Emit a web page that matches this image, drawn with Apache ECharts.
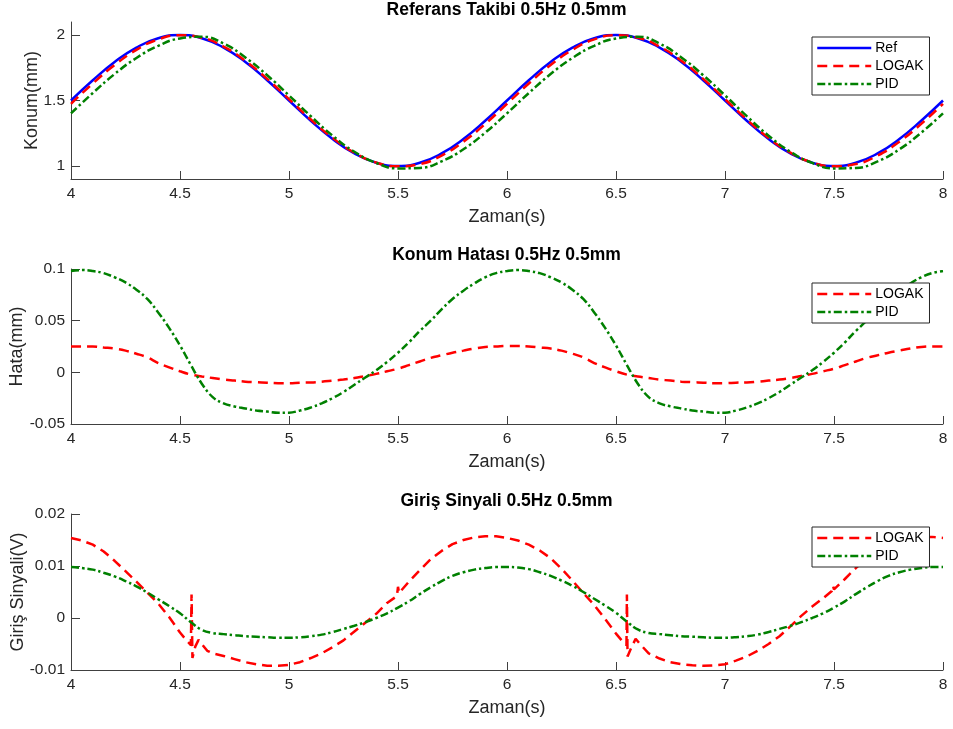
<!DOCTYPE html>
<html><head><meta charset="utf-8">
<script src="https://cdn.jsdelivr.net/npm/echarts@6/dist/echarts.min.js"></script>
<style>html,body{margin:0;padding:0;background:#fff}#c{width:953px;height:729px}</style>
</head><body><div id="c"></div>
<script>
// ---- data ----
const titles = ['Referans Takibi 0.5Hz 0.5mm', 'Konum Hatası 0.5Hz 0.5mm', 'Giriş Sinyali 0.5Hz 0.5mm'];
const yNames = ['Konum(mm)', 'Hata(mm)', 'Giriş Sinyali(V)'];
const xName = 'Zaman(s)';
const xTicks = [4, 4.5, 5, 5.5, 6, 6.5, 7, 7.5, 8];
const yTicksTop = [1, 1.5, 2];

// top panel, sampled every 0.1 s from 4 to 8
const posRef = [1.5,1.6545,1.794,1.9045,1.9755,2.0,1.9755,1.9045,1.794,1.6545,1.5,1.3455,1.206,1.0955,1.0245,1.0,1.0245,1.0955,1.206,1.3455,
  1.5,1.6545,1.794,1.9045,1.9755,2.0,1.9755,1.9045,1.794,1.6545,1.5,1.3455,1.206,1.0955,1.0245,1.0,1.0245,1.0955,1.206,1.3455,1.5];
const posLOGAK = [1.475,1.630,1.771,1.887,1.967,1.999,1.980,1.912,1.803,1.665,1.511,1.355,1.214,1.101,1.026,0.997,1.014,1.079,1.185,1.321,
  1.475,1.630,1.771,1.887,1.967,1.999,1.980,1.912,1.803,1.665,1.511,1.355,1.214,1.101,1.026,0.997,1.014,1.079,1.185,1.321,1.475];
const posPID = [1.402,1.557,1.702,1.825,1.918,1.974,1.987,1.935,1.829,1.693,1.539,1.380,1.231,1.108,1.023,0.981,0.985,1.035,1.127,1.254,
  1.402,1.557,1.702,1.825,1.918,1.974,1.987,1.935,1.829,1.693,1.539,1.380,1.231,1.108,1.023,0.981,0.985,1.035,1.127,1.254,1.402];

// middle panel, sampled every 0.05 s from 4 to 8
const errLOGAK = [0.025,0.025,0.025,0.024,0.023,0.021,0.018,0.0145,0.009,0.0048,0.001,-0.0022,-0.004,-0.0055,-0.007,-0.008,-0.009,-0.0095,-0.010,-0.0105,
  -0.0105,-0.010,-0.0098,-0.009,-0.008,-0.007,-0.0055,-0.0035,-0.0015,0.001,0.0035,0.007,0.0105,0.014,0.0165,0.019,0.021,0.023,0.0245,0.025,
  0.0255,0.0255,0.025,0.024,0.023,0.021,0.018,0.0145,0.009,0.0048,0.001,-0.0022,-0.004,-0.0055,-0.007,-0.008,-0.009,-0.0095,-0.010,-0.0105,
  -0.0105,-0.010,-0.0098,-0.009,-0.008,-0.007,-0.0055,-0.0035,-0.0015,0.001,0.0035,0.007,0.0105,0.014,0.0165,0.019,0.021,0.023,0.0245,0.025,0.025];
const errPID = [0.098,0.099,0.098,0.096,0.092,0.087,0.080,0.071,0.058,0.043,0.026,0.007,-0.011,-0.024,-0.030,-0.033,-0.035,-0.037,-0.038,-0.039,
  -0.039,-0.037,-0.034,-0.030,-0.025,-0.019,-0.012,-0.005,0.002,0.010,0.019,0.029,0.040,0.050,0.061,0.071,0.079,0.086,0.092,0.096,
  0.098,0.099,0.098,0.096,0.092,0.087,0.080,0.071,0.058,0.043,0.026,0.007,-0.011,-0.024,-0.030,-0.033,-0.035,-0.037,-0.038,-0.039,
  -0.039,-0.037,-0.034,-0.030,-0.025,-0.019,-0.012,-0.005,0.002,0.010,0.019,0.029,0.040,0.050,0.061,0.071,0.079,0.086,0.092,0.096,0.098];

// bottom panel
const uPID = [0.0098,0.0096,0.0093,0.0087,0.0080,0.0071,0.0061,0.0049,0.0036,0.0023,0.0009,-0.0008,-0.0023,-0.0029,-0.0031,-0.0033,-0.0035,-0.0036,-0.0037,-0.0038,
  -0.0038,-0.0037,-0.0035,-0.0032,-0.0027,-0.0021,-0.0015,-0.0008,0.0000,0.0009,0.0020,0.0032,0.0046,0.0059,0.0071,0.0081,0.0088,0.0093,0.0096,0.0098,
  0.0098,0.0097,0.0094,0.0088,0.0081,0.0072,0.0062,0.0050,0.0037,0.0024,0.0010,-0.0007,-0.0022,-0.0029,-0.0031,-0.0033,-0.0035,-0.0036,-0.0037,-0.0038,
  -0.0038,-0.0037,-0.0035,-0.0032,-0.0027,-0.0021,-0.0015,-0.0008,0.0000,0.0009,0.0020,0.0032,0.0046,0.0059,0.0071,0.0081,0.0088,0.0093,0.0096,0.0098,0.0098];
const uLOGAK_t = [4.00,4.05,4.10,4.15,4.20,4.25,4.30,4.35,4.40,4.45,4.50,4.53,4.55,4.553,4.557,4.57,4.585,4.60,4.625,4.65,4.70,4.75,4.80,4.85,4.90,4.95,
  5.00,5.05,5.10,5.15,5.20,5.25,5.30,5.35,5.40,5.45,5.495,5.50,5.505,5.55,5.60,5.65,5.70,5.75,5.80,5.85,5.90,5.95,
  6.00,6.05,6.10,6.15,6.20,6.25,6.30,6.35,6.40,6.45,6.50,6.53,6.548,6.550,6.553,6.565,6.59,6.61,6.65,6.70,6.75,6.80,6.85,6.90,6.95,
  7.00,7.05,7.10,7.15,7.20,7.25,7.30,7.35,7.40,7.45,7.49,7.495,7.50,7.55,7.60,7.65,7.70,7.75,7.80,7.85,7.90,7.95,8.00];
const uLOGAK = [0.0154,0.0149,0.0141,0.0128,0.0110,0.0090,0.0070,0.0049,0.0028,0.0002,-0.0028,-0.0043,-0.0052,0.0045,-0.0077,-0.0055,-0.0042,-0.0050,-0.0063,-0.0068,-0.0073,-0.0079,-0.0085,-0.0089,-0.0092,-0.0092,
  -0.0090,-0.0085,-0.0077,-0.0068,-0.0056,-0.0043,-0.0026,-0.0009,0.0008,0.0029,0.0042,0.0060,0.0048,0.0070,0.0092,0.0113,0.0129,0.0142,0.0150,0.0155,0.0157,0.0157,
  0.0154,0.0149,0.0141,0.0130,0.0115,0.0095,0.0072,0.0048,0.0025,-0.0002,-0.0030,-0.0045,-0.0052,0.0045,-0.0074,-0.0062,-0.0040,-0.0050,-0.0068,-0.0078,-0.0085,-0.0089,-0.0091,-0.0092,-0.0091,
  -0.0089,-0.0082,-0.0074,-0.0063,-0.0050,-0.0035,-0.0016,0.0004,0.0022,0.0038,0.0052,0.0062,0.0055,0.0075,0.0096,0.0114,0.0129,0.0141,0.0149,0.0154,0.0156,0.0156,0.0154];

// ---- build ----
const tTop = posRef.map((_, i) => +(4 + i * 0.1).toFixed(2));
const tErr = errPID.map((_, i) => +(4 + i * 0.05).toFixed(2));
const zip = (t, v) => t.map((x, i) => [x, v[i]]);

const FONT = 'Liberation Sans, Arial, Helvetica, sans-serif';
const TXT = '#262626';
const LW = 2.5;
const styles = {
  Ref:   {color: '#0000FF', width: LW, type: 'solid'},
  LOGAK: {color: '#FF0000', width: LW, type: [10, 6]},
  PID:   {color: '#008000', width: LW, type: [8, 3, 2.5, 3]}
};

const grids = [
  {left: 71, right: 10, top: 22, height: 157, outerBoundsMode: 'none', containLabel: false},
  {left: 71, right: 10, top: 269, height: 155, outerBoundsMode: 'none', containLabel: false},
  {left: 71, right: 10, top: 514, height: 156, outerBoundsMode: 'none', containLabel: false}
];
const yRanges = [[0.9, 2.1], [-0.05, 0.1], [-0.01, 0.02]];
const yIntervals = [null, 0.05, 0.01];
const yGaps = [30, 45, 44];

const xAxes = grids.map((g, i) => ({
  type: 'value', gridIndex: i, min: 4, max: 8, interval: 0.5,
  name: xName, nameLocation: 'middle', nameGap: 29, nameMoveOverlap: false,
  nameTextStyle: {fontFamily: FONT, fontSize: 18, color: TXT},
  axisLine: {show: true, onZero: false, lineStyle: {color: '#404040', width: 1}},
  axisTick: {show: true, inside: true, length: 8, lineStyle: {color: '#404040'}},
  axisLabel: {fontFamily: FONT, fontSize: 15.5, color: TXT, margin: 7},
  splitLine: {show: false}
}));
const yAxes = grids.map((g, i) => {
  const ax = {
    type: 'value', gridIndex: i, min: yRanges[i][0], max: yRanges[i][1],
    name: yNames[i], nameLocation: 'middle', nameGap: yGaps[i], nameRotate: 90, nameMoveOverlap: false,
    nameTextStyle: {fontFamily: FONT, fontSize: 18, color: TXT},
    axisLine: {show: true, lineStyle: {color: '#404040', width: 1}},
    axisTick: {show: true, inside: true, length: 9, lineStyle: {color: '#404040'}},
    axisLabel: {fontFamily: FONT, fontSize: 15.5, color: TXT, margin: 6},
    splitLine: {show: false}
  };
  if (yIntervals[i]) ax.interval = yIntervals[i];
  else {
    ax.axisLabel.customValues = yTicksTop;
    ax.axisTick.customValues = yTicksTop;
  }
  return ax;
});

function line(name, data, gi, smooth) {
  return {
    type: 'line', name, data, xAxisIndex: gi, yAxisIndex: gi,
    symbol: 'none', showSymbol: false, smooth: smooth, lineStyle: styles[name],
    itemStyle: {color: styles[name].color}, clip: true
  };
}

const series = [
  line('Ref', zip(tTop, posRef), 0, true),
  line('LOGAK', zip(tTop, posLOGAK), 0, true),
  line('PID', zip(tTop, posPID), 0, true),
  line('LOGAK', zip(tErr, errLOGAK), 1, 0.4),
  line('PID', zip(tErr, errPID), 1, 0.4),
  line('LOGAK', zip(uLOGAK_t, uLOGAK), 2, false),
  line('PID', zip(tErr, uPID), 2, 0.4)
];

const legendBase = {
  orient: 'vertical', left: 812, itemWidth: 54, itemHeight: 14, itemGap: 4,
  padding: [4, 6, 4, 4], borderColor: '#262626', borderWidth: 1, backgroundColor: '#fff',
  itemStyle: {color: 'rgba(0,0,0,0)', borderColor: 'rgba(0,0,0,0)', borderWidth: 0, opacity: 0},
  lineStyle: {width: 2.5},
  textStyle: {fontFamily: FONT, fontSize: 14, color: '#000', padding: [0, 0, 0, -1]},
  selectedMode: false
};
const legends = [
  Object.assign({}, legendBase, {top: 37, data: ['Ref', 'LOGAK', 'PID']}),
  Object.assign({}, legendBase, {top: 283, data: ['LOGAK', 'PID']}),
  Object.assign({}, legendBase, {top: 527, data: ['LOGAK', 'PID']})
];

const titleTops = [1, 246, 492];
const title = titles.map((t, i) => ({
  text: t, left: 506.5, textAlign: 'center', top: titleTops[i], padding: 0,
  textStyle: {fontFamily: FONT, fontSize: 17.5, fontWeight: 'bold', color: '#000'}
}));

const chart = echarts.init(document.getElementById('c'), null, {renderer: 'canvas'});
chart.setOption({
  animation: false, backgroundColor: '#fff',
  title, grid: grids, xAxis: xAxes, yAxis: yAxes, legend: legends, series
});
</script></body></html>
